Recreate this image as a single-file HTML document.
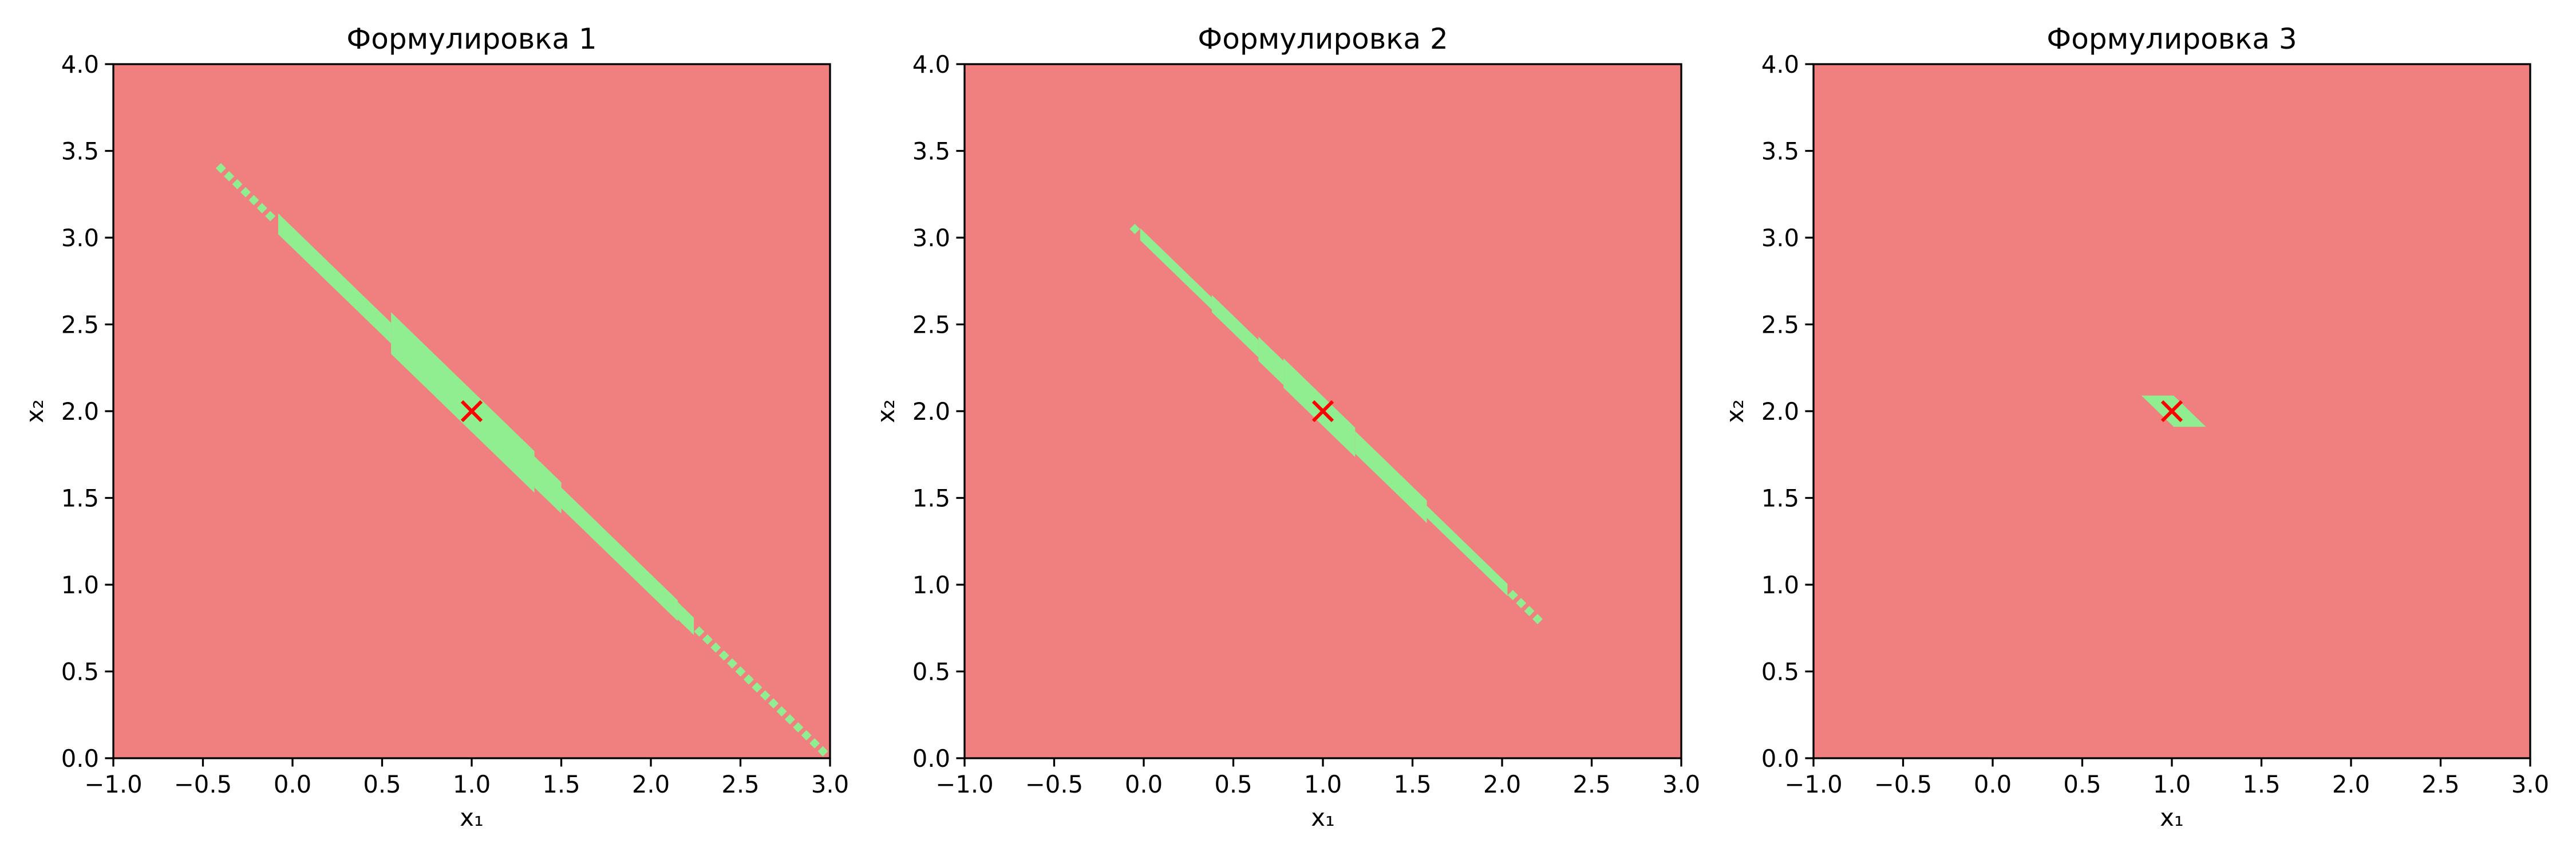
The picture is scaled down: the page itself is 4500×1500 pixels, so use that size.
<!DOCTYPE html>
<html><head><meta charset="utf-8"><style>
html,body{margin:0;padding:0;background:#fff;}
svg{display:block;}
text{font-family:"DejaVu Sans","Liberation Sans",sans-serif;fill:#000;}
</style></head><body>
<svg id="fig" width="4500" height="1500" viewBox="0 0 4500 1500" xmlns="http://www.w3.org/2000/svg"></svg>
<script>
const titles = ["Формулировка 1","Формулировка 2","Формулировка 3"];
const xTicks = [-1.0,-0.5,0.0,0.5,1.0,1.5,2.0,2.5,3.0];
const yTicks = [0.0,0.5,1.0,1.5,2.0,2.5,3.0,3.5,4.0];
// band segments along x1+x2=3 : start x, end x, half-width in (x1+x2)
const p1SegStart = [-0.08, 0.55, 1.35, 1.50, 2.15];
const p1SegEnd   = [ 0.55, 1.35, 1.50, 2.15, 2.24];
const p1SegHalf  = [ 0.06, 0.12, 0.09, 0.06, 0.05];
const p2SegStart = [-0.02, 0.38, 0.64, 0.78, 1.18, 1.58];
const p2SegEnd   = [ 0.38, 0.64, 0.78, 1.18, 1.58, 2.03];
const p2SegHalf  = [ 0.035,0.05, 0.07, 0.085,0.065,0.035];
// dotted parts: start x, end x
const p1DotStart = [-0.40, 2.27];
const p1DotEnd   = [-0.10, 2.97];
const p2DotStart = [-0.05, 2.06];
const p2DotEnd   = [-0.05, 2.20];
// panel 3 parallelogram: x2 range and x1+x2 range
const p3Y = [1.91, 2.09];
const p3Sum = [2.92, 3.10];
const optimum = [1.0, 2.0];

const NS="http://www.w3.org/2000/svg";
const svg=document.getElementById('fig');
const panelLeft=[198,1685,3168], W=1252, TOP=112, H=1212;
function el(tag,attrs,parent){const e=document.createElementNS(NS,tag);for(const k in attrs)e.setAttribute(k,attrs[k]);(parent||svg).appendChild(e);return e;}

for(let p=0;p<3;p++){
  const L=panelLeft[p];
  const sx=v=>L+(v+1)/4*W, sy=v=>TOP+H-(v/4)*H;
  const g=el('g',{});
  
  
  const bg=el('rect',{x:L,y:TOP,width:W,height:H,fill:'#f08080'},g);
  
  
  const fg=el('g',{fill:'#90ee90'},g);
  
  
  const drawSegs=(S,E,Hf)=>{for(let i=0;i<S.length;i++){
    const a=S[i],b=E[i],d=Hf[i];
    const pts=[[a,3-a+d],[b,3-b+d],[b,3-b-d],[a,3-a-d]].map(q=>sx(q[0])+','+sy(q[1])).join(' ');
    const poly=el('polygon',{points:pts},fg);
    
    
  }};
  const drawDots=(S,E)=>{for(let i=0;i<S.length;i++){
    for(let x=S[i];x<=E[i]+1e-6;x+=0.046){
      const cx=sx(x),cy=sy(3-x),r=9;
      const dm=el('polygon',{points:`${cx},${cy-r} ${cx+r},${cy} ${cx},${cy+r} ${cx-r},${cy}`},fg);
      
      
    }
  }};
  if(p===0){drawSegs(p1SegStart,p1SegEnd,p1SegHalf);drawDots(p1DotStart,p1DotEnd);}
  if(p===1){drawSegs(p2SegStart,p2SegEnd,p2SegHalf);drawDots(p2DotStart,p2DotEnd);}
  if(p===2){
    const pts=[[p3Sum[0]-p3Y[1],p3Y[1]],[p3Sum[1]-p3Y[1],p3Y[1]],[p3Sum[1]-p3Y[0],p3Y[0]],[p3Sum[0]-p3Y[0],p3Y[0]]].map(q=>sx(q[0])+','+sy(q[1])).join(' ');
    const poly=el('polygon',{points:pts},fg);
    
    
  }
  // optimum marker
  const mx=sx(optimum[0]),my=sy(optimum[1]),m=17;
  const mk=el('path',{d:`M${mx-m},${my-m}L${mx+m},${my+m}M${mx-m},${my+m}L${mx+m},${my-m}`,stroke:'#ff0000','stroke-width':6,fill:'none'},g);
  
  
  // frame
  const fr=el('rect',{x:L,y:TOP,width:W,height:H,fill:'none',stroke:'#000','stroke-width':3.3},g);
  
  
  // ticks
  xTicks.forEach(v=>{
    const x=sx(v);
    const t=el('line',{x1:x,y1:TOP+H,x2:x,y2:TOP+H+14.6,stroke:'#000','stroke-width':3.3},g);
    
    
    const tx=el('text',{x:x,y:TOP+H+60,'font-size':41.7,'text-anchor':'middle'},g);
    tx.textContent=(v<0?'\u2212':'')+Math.abs(v).toFixed(1);
    
    
  });
  yTicks.forEach(v=>{
    const y=sy(v);
    const t=el('line',{x1:L-14.6,y1:y,x2:L,y2:y,stroke:'#000','stroke-width':3.3},g);
    
    
    const tx=el('text',{x:L-25,y:y+15,'font-size':41.7,'text-anchor':'end'},g);
    tx.textContent=v.toFixed(1);
    
    
  });
  const xl=el('text',{x:L+W/2,y:1442,'font-size':41.7,'text-anchor':'middle'},g);
  xl.textContent='x\u2081';
  
  
  const yl=el('text',{x:0,y:0,'font-size':41.7,'text-anchor':'middle',transform:`translate(${L-123},${TOP+H/2}) rotate(-90)`},g);
  yl.textContent='x\u2082';
  
  
  const tt=el('text',{x:L+W/2,y:TOP-27,'font-size':50,'text-anchor':'middle'},g);
  tt.textContent=titles[p];
  
  
}
</script>
</body></html>
